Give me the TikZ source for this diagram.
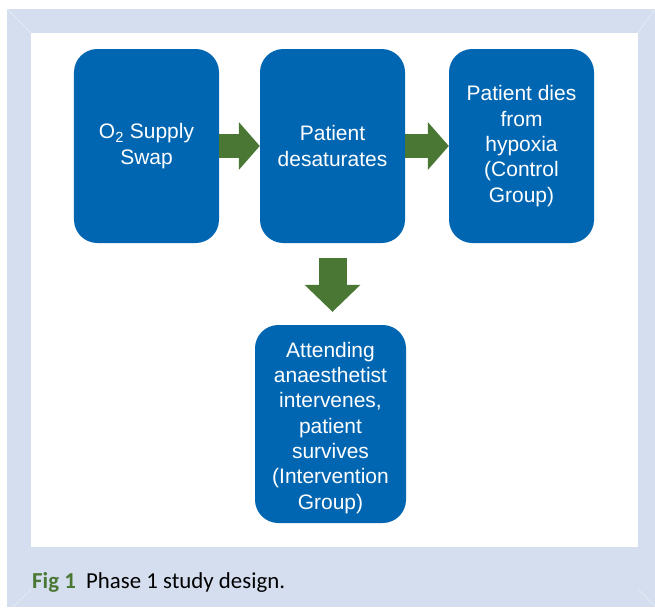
\documentclass[tikz,border=0pt]{standalone}
\usepackage{fontspec}
\setmainfont{Liberation Sans}
\newfontfamily\capfont{Carlito}
\usetikzlibrary{arrows.meta}

\definecolor{boxblue}{RGB}{0,102,178}
\definecolor{arrowgreen}{RGB}{74,120,52}
\definecolor{framebg}{RGB}{213,222,239}

\tikzset{
    stage/.style={fill=boxblue, text=white, rounded corners=0.7cm, align=center,
        minimum width=4.35cm, minimum height=5.82cm, inner sep=0pt,
        font=\fontsize{17.9}{21.6}\selectfont},
    flow/.style={draw=arrowgreen, line width=0.72cm,
        -{Triangle[length=0.63cm, width=1.44cm, line width=0pt]}},
}

\begin{document}
\begin{tikzpicture}[x=0.03cm, y=-0.03cm]
        \useasboundingbox (0,0) rectangle (655,607);

        % frame and panel
        \fill[framebg] (7,9) rectangle (655,607);
        \fill[white] (31,33) rectangle (638,547);
        \draw[white, opacity=0.6, line width=0.3pt] (7,9) -- (31,33);
        \draw[white, opacity=0.6, line width=0.3pt] (655,9) -- (638,33);
        \draw[white, opacity=0.6, line width=0.3pt] (31,589) -- (13,607);
        \draw[white, opacity=0.6, line width=0.3pt] (638,589) -- (656,607);

        % stages
        \node[stage] (swap)  at (146.5,146) {O\textsubscript{2} Supply\\Swap};
        \node[stage] (desat) at (332.5,146) {Patient\\desaturates};
        \node[stage] (dies)  at (521.5,146) {Patient dies\\from\\hypoxia\\(Control\\Group)};
        \node[stage, minimum width=4.53cm, minimum height=5.94cm] (interv) at (330.5,424)
            {\rule{0pt}{0.68cm}Attending\\anaesthetist\\intervenes,\\patient\\survives\\(Intervention\\Group)};

        % arrows
        \draw[flow] (swap.east) -- (desat.west);
        \draw[flow] (desat.east) -- (dies.west);
        \draw[flow, line width=0.84cm, shorten <=0.45cm, shorten >=0.39cm,
            -{Triangle[length=0.81cm, width=1.68cm, line width=0pt]}]
            (desat.south) -- (desat.south |- interv.north);

        \node[anchor=base west, inner sep=0pt, font=\capfont\fontsize{19.5}{23}\selectfont]
            (caption) at (32,588)
            {\textcolor{arrowgreen}{\bfseries Fig 1}\hspace{0.45em}Phase 1 study design.};
\end{tikzpicture}
\end{document}
